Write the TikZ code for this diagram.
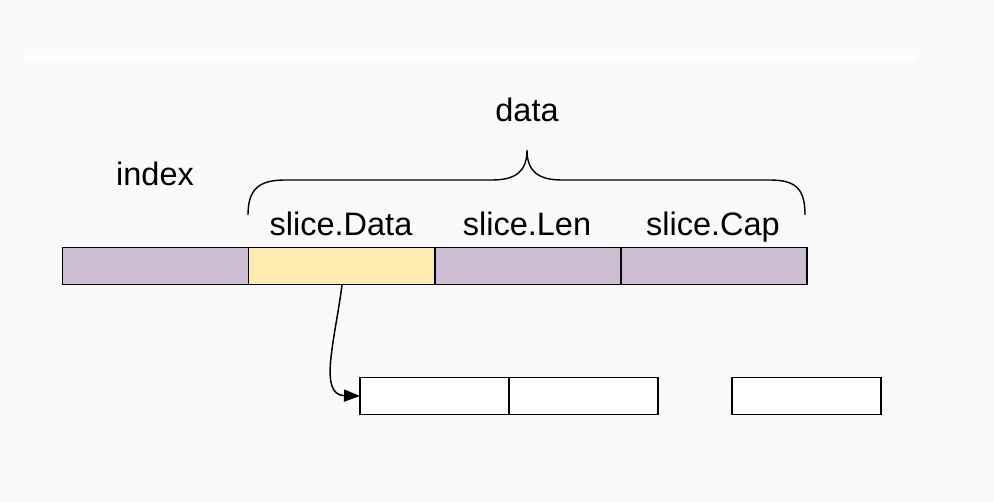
\documentclass[tikz,border=0pt]{standalone}
\usepackage{fontspec}
\setmainfont{Liberation Sans}
\usetikzlibrary{arrows.meta}
\definecolor{bg}{HTML}{FAFAFA}
\definecolor{lilac}{HTML}{CDBDD2}
\definecolor{cream}{HTML}{FEEBB0}
\begin{document}
\begin{tikzpicture}[x=1pt,y=-1pt,
  lbl/.style={font=\fontsize{32.5}{38}\selectfont, inner sep=0pt, anchor=base},
  cell/.style={draw=black, line width=1.8pt, minimum height=37pt, inner sep=0pt, outer sep=0pt},
  purple cell/.style={cell, fill=lilac, minimum width=186pt},
  yellow cell/.style={cell, fill=cream, minimum width=186pt},
  white cell/.style={cell, fill=white, minimum width=149pt},
  brace/.style={draw=black, line width=1.4pt},
  link/.style={draw=black, line width=1.5pt, -{Triangle[length=16pt,width=12pt]}}]
\fill[bg] (0,0) rectangle (994,502);
\useasboundingbox (0,0) rectangle (994,502);
\fill[white] (25,55) rectangle (918,61);
% top row
\node[purple cell] (idx) at (155.5,266) {};
\node[yellow cell] (dat) at (341.5,266) {};
\node[purple cell] (len) at (528,266) {};
\node[purple cell] (cap) at (714,266) {};
% labels
\node[lbl] (tindex) at (155,186) {index};
\node[lbl] (tdata) at (527,122) {data};
\node[lbl] (tsd) at (341,236) {slice.Data};
\node[lbl] (tsl) at (527,236) {slice.Len};
\node[lbl] (tsc) at (713,236) {slice.Cap};
% brace
\draw[brace] (248,215) .. controls (248,190) and (258,180) .. (285,180) -- (492,180)
  .. controls (515,180) and (527,172) .. (527,150)
  .. controls (527,172) and (539,180) .. (562,180) -- (770,180)
  .. controls (797,180) and (805,190) .. (805,215);
% bottom row
\node[white cell] (b1) at (434.5,396) {};
\node[white cell] (b2) at (583.5,396) {};
\node[white cell] (b3) at (806.5,396) {};
% pointer
\coordinate (src) at (342,285);
\draw[link] (src) .. controls (335,340) and (318,395) .. (b1.west);
\end{tikzpicture}
\end{document}
